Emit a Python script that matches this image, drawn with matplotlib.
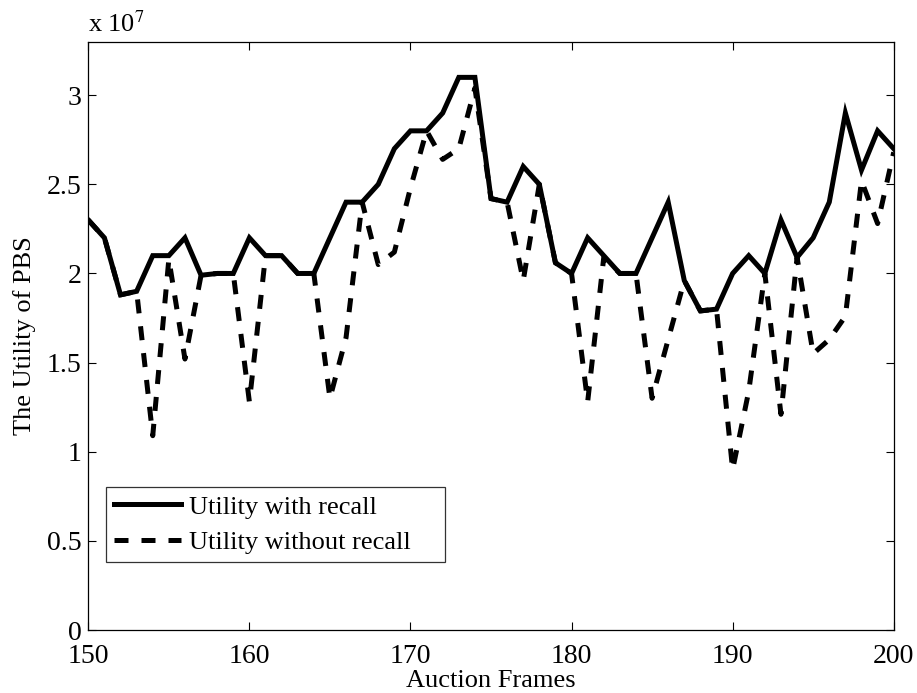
import numpy as np
import matplotlib
matplotlib.use("Agg")
import matplotlib.pyplot as plt

plt.rcParams['font.family'] = ['Liberation Serif', 'DejaVu Serif']
plt.rcParams['mathtext.fontset'] = 'stix'

# auction frames 150..200, utility in units of 1e7
frames = np.arange(150, 201)
with_recall = [2.30, 2.20, 1.88, 1.90, 2.10, 2.10, 2.20, 1.99, 2.00, 2.00,
               2.20, 2.10, 2.10, 2.00, 2.00, 2.20, 2.40, 2.40, 2.50, 2.70,
               2.80, 2.80, 2.90, 3.10, 3.10, 2.42, 2.40, 2.60, 2.50, 2.06,
               2.00, 2.20, 2.10, 2.00, 2.00, 2.20, 2.40, 1.96, 1.79, 1.80,
               2.00, 2.10, 2.00, 2.30, 2.09, 2.20, 2.40, 2.90, 2.58, 2.80,
               2.70]
without_recall = [2.30, 2.20, 1.88, 1.90, 1.09, 2.08, 1.52, 1.99, 2.00, 2.00,
                  1.28, 2.10, 2.10, 2.00, 2.00, 1.30, 1.64, 2.40, 2.05, 2.12,
                  2.48, 2.80, 2.64, 2.70, 3.04, 2.42, 2.40, 1.96, 2.50, 2.06,
                  2.00, 1.28, 2.09, 2.00, 2.00, 1.30, 1.63, 1.96, 1.79, 1.80,
                  0.90, 1.34, 2.00, 1.21, 2.09, 1.55, 1.63, 1.76, 2.52, 2.28,
                  2.68]
yticks = [0, 0.5, 1, 1.5, 2, 2.5, 3]
ytick_labels = ['0', '0.5', '1', '1.5', '2', '2.5', '3']
xticks = [150, 160, 170, 180, 190, 200]

fs = 19
fig = plt.figure(figsize=(9.17, 6.93), dpi=100)
ax = fig.add_axes([0.0963, 0.0909, 0.8783, 0.8489])

ax.plot(frames, with_recall, color='black', lw=3.6, solid_joinstyle='miter',
        label='Utility with recall')
ax.plot(frames, without_recall, color='black', lw=3.6, dashes=(2.8, 2.6),
        label='Utility without recall')

ax.set_xlim(150, 200)
ax.set_ylim(0, 3.3)
ax.set_xticks(xticks)
ax.set_yticks(yticks)
ax.set_yticklabels(ytick_labels)
ax.tick_params(direction='in', length=5.5, width=0.8, labelsize=20,
               top=True, right=True)
ax.tick_params(axis='x', pad=10)
ax.tick_params(axis='y', pad=5)
for s in ax.spines.values():
    s.set_linewidth(0.9)

ax.set_xlabel('Auction Frames', fontsize=fs, labelpad=1)
ax.set_ylabel('The Utility of PBS', fontsize=fs, labelpad=8)
ax.text(0.0, 1.008, r'x 10$^{7}$', transform=ax.transAxes, fontsize=fs,
        ha='left', va='bottom')

leg = ax.legend(loc='lower left', bbox_to_anchor=(0.0216, 0.116, 0.4213, 0.137),
                mode='expand', borderaxespad=0, fontsize=fs, frameon=True,
                fancybox=False, edgecolor='black', handlelength=2.55,
                handletextpad=0.3, labelspacing=0.45, borderpad=0.3)
leg.get_frame().set_linewidth(0.9)

fig.savefig('out.png', dpi=100)
